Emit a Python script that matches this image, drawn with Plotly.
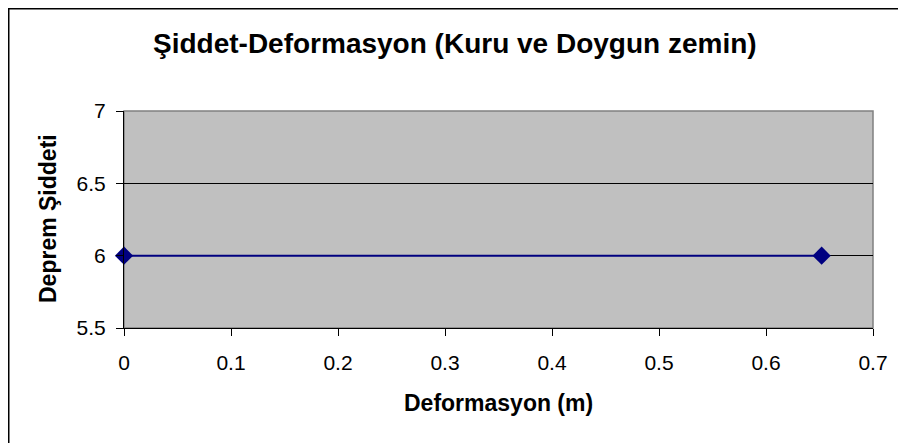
import plotly.graph_objects as go

# Deformasyon (m) ve deprem şiddeti
deformasyon = [0.0, 0.652]
siddet = [6, 6]

x_ticks = [0, 0.1, 0.2, 0.3, 0.4, 0.5, 0.6, 0.7]
y_ticks = [5.5, 6, 6.5, 7]

# sayfa gövdesinin 8px kenar boşluğu hesaba katılıyor
OFF = 8
W, H = 906 - OFF, 443 - OFF
L, R, T, B = 124 - OFF, 33, 111 - OFF, 115
pw, ph = W - L - R, H - T - B


def px(x):
    return (x - OFF - L) / pw


def py(y):
    return 1 - (y - OFF - T) / ph


font = "Liberation Sans, Arial, sans-serif"

fig = go.Figure(
    go.Scatter(
        x=deformasyon,
        y=siddet,
        mode="lines+markers",
        line=dict(color="#000080", width=2),
        marker=dict(symbol="diamond", size=14, color="#000080"),
        cliponaxis=False,
        showlegend=False,
    )
)

fig.update_xaxes(
    range=[0, 0.7],
    tickvals=x_ticks,
    ticktext=[f"{v:g}" for v in x_ticks],
    showgrid=False,
    zeroline=False,
    showline=True,
    linecolor="black",
    linewidth=1,
    ticks="outside",
    ticklen=7,
    tickcolor="black",
    ticklabelstandoff=9,
    tickfont=dict(family=font, size=21, color="black"),
)
fig.update_yaxes(
    range=[5.5, 7],
    tickvals=y_ticks,
    ticktext=[f"{v:g}" for v in y_ticks],
    showgrid=True,
    gridcolor="black",
    gridwidth=1,
    zeroline=False,
    showline=True,
    linecolor="black",
    linewidth=1,
    ticks="outside",
    ticklen=7,
    tickcolor="black",
    ticklabelstandoff=6,
    tickfont=dict(family=font, size=21, color="black"),
)

ann = dict(xref="paper", yref="paper", showarrow=False,
           xanchor="center", yanchor="middle")

fig.update_layout(
    width=W,
    height=H,
    margin=dict(l=L, r=R, t=T, b=B),
    paper_bgcolor="white",
    plot_bgcolor="#C0C0C0",
    shapes=[
        # çizim alanı çerçevesi
        dict(type="rect", xref="paper", yref="paper", x0=0, x1=1, y0=0, y1=1,
             line=dict(color="#808080", width=1.5), layer="below"),
        # grafik dış çerçevesi
        dict(type="rect", xref="paper", yref="paper",
             x0=px(8.75), x1=px(920), y0=py(460), y1=py(8.75),
             line=dict(color="black", width=1.5)),
    ],
    annotations=[
        dict(text="<b>Şiddet-Deformasyon (Kuru ve Doygun zemin)</b>",
             x=px(455), y=py(44),
             font=dict(family=font, size=28, color="black"), **ann),
        dict(text="<b>Deformasyon (m)</b>",
             x=px(498), y=py(403),
             font=dict(family=font, size=23, color="black"), **ann),
        dict(text="<b>Deprem Şiddeti</b>", textangle=-90,
             x=px(48), y=py(219),
             font=dict(family=font, size=23, color="black"), **ann),
    ],
)

fig.write_html("out.html")
